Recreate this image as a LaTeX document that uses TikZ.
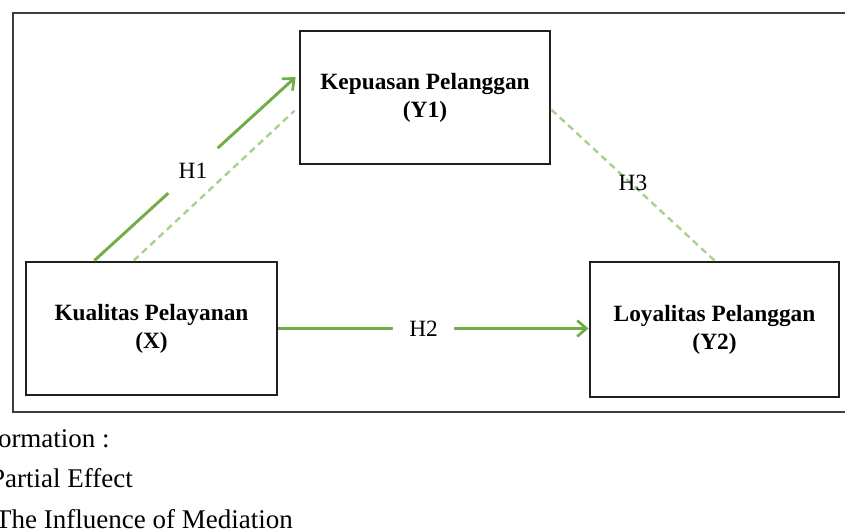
\documentclass[tikz,border=0pt]{standalone}
\usepackage{fontspec}
\setmainfont{Liberation Serif}
\usetikzlibrary{arrows.meta,calc}
\definecolor{solidgreen}{RGB}{112,173,71}
\definecolor{lightgreen}{RGB}{169,209,142}
\definecolor{framegray}{RGB}{62,62,62}
\begin{document}
\begin{tikzpicture}[x=0.75pt, y=-0.75pt, var node/.style={rectangle, draw=black!88, line width=2.2pt, align=center, inner sep=0pt, font=\fontsize{17.5}{21}\selectfont\bfseries}, hyp node/.style={circle, fill=white, inner sep=0pt, minimum size=46pt, font=\fontsize{17.5}{19}\selectfont}, note/.style={inner sep=0pt, anchor=base east, font=\fontsize{20.25}{22}\selectfont}, effect/.style={draw=solidgreen, line width=2.2pt}, mediation/.style={draw=lightgreen, line width=1.8pt, dash pattern=on 5pt off 3.5pt}, barb end/.style={-{Straight Barb[length=7pt, width=12pt, line width=2pt]}}]
    \useasboundingbox (0,0) rectangle (845,531);
    \clip (0,0) rectangle (845,531);
    \draw[framegray, line width=1.5pt] (13,13) rectangle (880,412);

    \node[var node, minimum width=187.5pt, minimum height=99.75pt](Y1) at (425,97.5){Kepuasan Pelanggan\\(Y1)};
    \node[var node, minimum width=188.25pt, minimum height=99.75pt](X) at (151.5,328.5){Kualitas Pelayanan\\(X)};
    \node[var node, minimum width=186.75pt, minimum height=101.25pt](Y2) at (714.5,329.5){Loyalitas Pelanggan\\(Y2)};

    \coordinate (x1) at ($(X.north west)!0.275!(X.north east)$);
    \coordinate (x2) at ($(X.north west)!0.43!(X.north east)$);
    \coordinate (y1a) at ($(Y1.north west)!0.33!(Y1.south west)$);
    \coordinate (y1b) at ($(Y1.north west)!0.57!(Y1.south west)$);
    \coordinate (y1c) at ($(Y1.north east)!0.59!(Y1.south east)$);

    % partial effects
    \draw[effect, barb end, shorten >=3pt] (x1) -- (y1a) node[hyp node, minimum size=50pt, pos=0.483](H1){H1};
    \draw[effect, barb end] (X.east) -- (X.east -| Y2.west) node[hyp node, pos=0.468](H2){H2};

    % mediation
    \draw[mediation, shorten >=4pt] (x2) -- (y1b);
    \draw[mediation] (y1c) -- (Y2.north) node[hyp node, fill=none, minimum size=0pt, midway, yshift=2pt](H3){H3};

\foreach \n/\x/\y/\t in {info/110/447/Information :, partial/133/487/Partial Effect, mediate/293/528/The Influence of Mediation}{
    \node[note](\n) at (\x,\y){\t};}
\end{tikzpicture}
\end{document}
